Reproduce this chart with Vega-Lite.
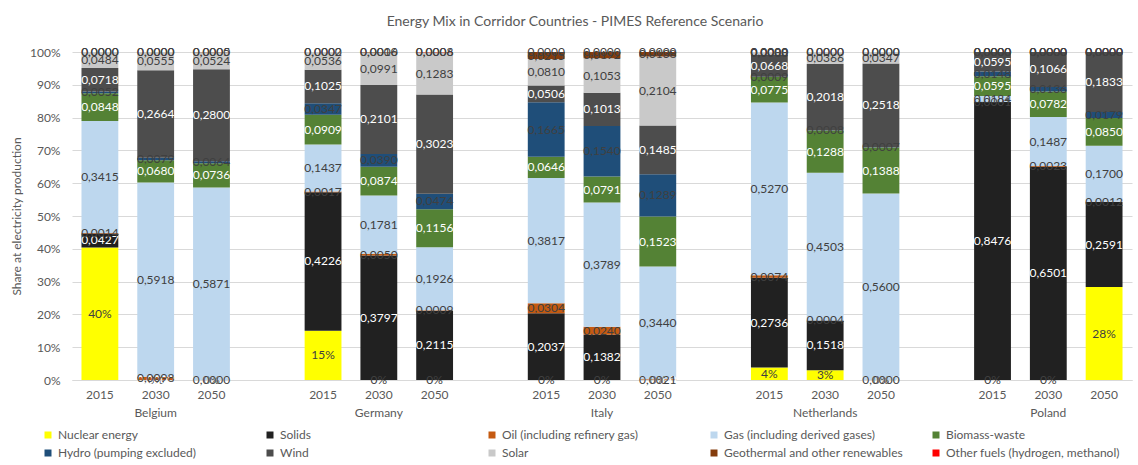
{
  "$schema": "https://vega.github.io/schema/vega-lite/v6.json",
  "width": 1060,
  "height": 328,
  "autosize": {"type": "none"},
  "padding": {"left": 72, "top": 52, "right": 6, "bottom": 85},
  "background": "white",
  "title": {"text": "Energy Mix in Corridor Countries - PIMES Reference Scenario", "font": "Lato", "fontSize": 14, "fontWeight": "normal", "color": "#595959", "anchor": "middle", "dx": -27, "offset": 17},
  "data": {"values": [
    {"bar":"Belgium|2015","source":"Nuclear energy","share":0.4042},
    {"bar":"Belgium|2015","source":"Solids","share":0.0427},
    {"bar":"Belgium|2015","source":"Oil (including refinery gas)","share":0.0014},
    {"bar":"Belgium|2015","source":"Gas (including derived gases)","share":0.3415},
    {"bar":"Belgium|2015","source":"Biomass-waste","share":0.0848},
    {"bar":"Belgium|2015","source":"Hydro (pumping excluded)","share":0.0052},
    {"bar":"Belgium|2015","source":"Wind","share":0.0718},
    {"bar":"Belgium|2015","source":"Solar","share":0.0484},
    {"bar":"Belgium|2015","source":"Geothermal and other renewables","share":0},
    {"bar":"Belgium|2015","source":"Other fuels (hydrogen, methanol)","share":0},
    {"bar":"Belgium|2030","source":"Nuclear energy","share":0},
    {"bar":"Belgium|2030","source":"Solids","share":0},
    {"bar":"Belgium|2030","source":"Oil (including refinery gas)","share":0.0098},
    {"bar":"Belgium|2030","source":"Gas (including derived gases)","share":0.5918},
    {"bar":"Belgium|2030","source":"Biomass-waste","share":0.0680},
    {"bar":"Belgium|2030","source":"Hydro (pumping excluded)","share":0.0079},
    {"bar":"Belgium|2030","source":"Wind","share":0.2664},
    {"bar":"Belgium|2030","source":"Solar","share":0.0555},
    {"bar":"Belgium|2030","source":"Geothermal and other renewables","share":0},
    {"bar":"Belgium|2030","source":"Other fuels (hydrogen, methanol)","share":0},
    {"bar":"Belgium|2050","source":"Nuclear energy","share":0},
    {"bar":"Belgium|2050","source":"Solids","share":0},
    {"bar":"Belgium|2050","source":"Oil (including refinery gas)","share":0},
    {"bar":"Belgium|2050","source":"Gas (including derived gases)","share":0.5871},
    {"bar":"Belgium|2050","source":"Biomass-waste","share":0.0736},
    {"bar":"Belgium|2050","source":"Hydro (pumping excluded)","share":0.0064},
    {"bar":"Belgium|2050","source":"Wind","share":0.2800},
    {"bar":"Belgium|2050","source":"Solar","share":0.0524},
    {"bar":"Belgium|2050","source":"Geothermal and other renewables","share":0.0005},
    {"bar":"Belgium|2050","source":"Other fuels (hydrogen, methanol)","share":0},
    {"bar":"Germany|2015","source":"Nuclear energy","share":0.1501},
    {"bar":"Germany|2015","source":"Solids","share":0.4226},
    {"bar":"Germany|2015","source":"Oil (including refinery gas)","share":0.0017},
    {"bar":"Germany|2015","source":"Gas (including derived gases)","share":0.1437},
    {"bar":"Germany|2015","source":"Biomass-waste","share":0.0909},
    {"bar":"Germany|2015","source":"Hydro (pumping excluded)","share":0.0347},
    {"bar":"Germany|2015","source":"Wind","share":0.1025},
    {"bar":"Germany|2015","source":"Solar","share":0.0536},
    {"bar":"Germany|2015","source":"Geothermal and other renewables","share":0.0002},
    {"bar":"Germany|2015","source":"Other fuels (hydrogen, methanol)","share":0},
    {"bar":"Germany|2030","source":"Nuclear energy","share":0},
    {"bar":"Germany|2030","source":"Solids","share":0.3797},
    {"bar":"Germany|2030","source":"Oil (including refinery gas)","share":0.0050},
    {"bar":"Germany|2030","source":"Gas (including derived gases)","share":0.1781},
    {"bar":"Germany|2030","source":"Biomass-waste","share":0.0874},
    {"bar":"Germany|2030","source":"Hydro (pumping excluded)","share":0.0390},
    {"bar":"Germany|2030","source":"Wind","share":0.2101},
    {"bar":"Germany|2030","source":"Solar","share":0.0991},
    {"bar":"Germany|2030","source":"Geothermal and other renewables","share":0.0016},
    {"bar":"Germany|2030","source":"Other fuels (hydrogen, methanol)","share":0},
    {"bar":"Germany|2050","source":"Nuclear energy","share":0},
    {"bar":"Germany|2050","source":"Solids","share":0.2115},
    {"bar":"Germany|2050","source":"Oil (including refinery gas)","share":0.0009},
    {"bar":"Germany|2050","source":"Gas (including derived gases)","share":0.1926},
    {"bar":"Germany|2050","source":"Biomass-waste","share":0.1156},
    {"bar":"Germany|2050","source":"Hydro (pumping excluded)","share":0.0474},
    {"bar":"Germany|2050","source":"Wind","share":0.3023},
    {"bar":"Germany|2050","source":"Solar","share":0.1283},
    {"bar":"Germany|2050","source":"Geothermal and other renewables","share":0.0008},
    {"bar":"Germany|2050","source":"Other fuels (hydrogen, methanol)","share":0.0006},
    {"bar":"Italy|2015","source":"Nuclear energy","share":0},
    {"bar":"Italy|2015","source":"Solids","share":0.2037},
    {"bar":"Italy|2015","source":"Oil (including refinery gas)","share":0.0304},
    {"bar":"Italy|2015","source":"Gas (including derived gases)","share":0.3817},
    {"bar":"Italy|2015","source":"Biomass-waste","share":0.0646},
    {"bar":"Italy|2015","source":"Hydro (pumping excluded)","share":0.1665},
    {"bar":"Italy|2015","source":"Wind","share":0.0506},
    {"bar":"Italy|2015","source":"Solar","share":0.0810},
    {"bar":"Italy|2015","source":"Geothermal and other renewables","share":0.0215},
    {"bar":"Italy|2015","source":"Other fuels (hydrogen, methanol)","share":0},
    {"bar":"Italy|2030","source":"Nuclear energy","share":0},
    {"bar":"Italy|2030","source":"Solids","share":0.1382},
    {"bar":"Italy|2030","source":"Oil (including refinery gas)","share":0.0240},
    {"bar":"Italy|2030","source":"Gas (including derived gases)","share":0.3789},
    {"bar":"Italy|2030","source":"Biomass-waste","share":0.0791},
    {"bar":"Italy|2030","source":"Hydro (pumping excluded)","share":0.1540},
    {"bar":"Italy|2030","source":"Wind","share":0.1013},
    {"bar":"Italy|2030","source":"Solar","share":0.1053},
    {"bar":"Italy|2030","source":"Geothermal and other renewables","share":0.0192},
    {"bar":"Italy|2030","source":"Other fuels (hydrogen, methanol)","share":0},
    {"bar":"Italy|2050","source":"Nuclear energy","share":0},
    {"bar":"Italy|2050","source":"Solids","share":0},
    {"bar":"Italy|2050","source":"Oil (including refinery gas)","share":0.0021},
    {"bar":"Italy|2050","source":"Gas (including derived gases)","share":0.3440},
    {"bar":"Italy|2050","source":"Biomass-waste","share":0.1523},
    {"bar":"Italy|2050","source":"Hydro (pumping excluded)","share":0.1289},
    {"bar":"Italy|2050","source":"Wind","share":0.1485},
    {"bar":"Italy|2050","source":"Solar","share":0.2104},
    {"bar":"Italy|2050","source":"Geothermal and other renewables","share":0.0138},
    {"bar":"Italy|2050","source":"Other fuels (hydrogen, methanol)","share":0},
    {"bar":"Netherlands|2015","source":"Nuclear energy","share":0.0380},
    {"bar":"Netherlands|2015","source":"Solids","share":0.2736},
    {"bar":"Netherlands|2015","source":"Oil (including refinery gas)","share":0.0074},
    {"bar":"Netherlands|2015","source":"Gas (including derived gases)","share":0.5270},
    {"bar":"Netherlands|2015","source":"Biomass-waste","share":0.0775},
    {"bar":"Netherlands|2015","source":"Hydro (pumping excluded)","share":0.0009},
    {"bar":"Netherlands|2015","source":"Wind","share":0.0668},
    {"bar":"Netherlands|2015","source":"Solar","share":0.0088},
    {"bar":"Netherlands|2015","source":"Geothermal and other renewables","share":0},
    {"bar":"Netherlands|2015","source":"Other fuels (hydrogen, methanol)","share":0},
    {"bar":"Netherlands|2030","source":"Nuclear energy","share":0.0295},
    {"bar":"Netherlands|2030","source":"Solids","share":0.1518},
    {"bar":"Netherlands|2030","source":"Oil (including refinery gas)","share":0.0004},
    {"bar":"Netherlands|2030","source":"Gas (including derived gases)","share":0.4503},
    {"bar":"Netherlands|2030","source":"Biomass-waste","share":0.1288},
    {"bar":"Netherlands|2030","source":"Hydro (pumping excluded)","share":0.0008},
    {"bar":"Netherlands|2030","source":"Wind","share":0.2018},
    {"bar":"Netherlands|2030","source":"Solar","share":0.0366},
    {"bar":"Netherlands|2030","source":"Geothermal and other renewables","share":0},
    {"bar":"Netherlands|2030","source":"Other fuels (hydrogen, methanol)","share":0},
    {"bar":"Netherlands|2050","source":"Nuclear energy","share":0},
    {"bar":"Netherlands|2050","source":"Solids","share":0.0007},
    {"bar":"Netherlands|2050","source":"Oil (including refinery gas)","share":0},
    {"bar":"Netherlands|2050","source":"Gas (including derived gases)","share":0.5600},
    {"bar":"Netherlands|2050","source":"Biomass-waste","share":0.1388},
    {"bar":"Netherlands|2050","source":"Hydro (pumping excluded)","share":0.0007},
    {"bar":"Netherlands|2050","source":"Wind","share":0.2518},
    {"bar":"Netherlands|2050","source":"Solar","share":0.0347},
    {"bar":"Netherlands|2050","source":"Geothermal and other renewables","share":0},
    {"bar":"Netherlands|2050","source":"Other fuels (hydrogen, methanol)","share":0},
    {"bar":"Poland|2015","source":"Nuclear energy","share":0},
    {"bar":"Poland|2015","source":"Solids","share":0.8476},
    {"bar":"Poland|2015","source":"Oil (including refinery gas)","share":0.0001},
    {"bar":"Poland|2015","source":"Gas (including derived gases)","share":0.0184},
    {"bar":"Poland|2015","source":"Biomass-waste","share":0.0595},
    {"bar":"Poland|2015","source":"Hydro (pumping excluded)","share":0.0148},
    {"bar":"Poland|2015","source":"Wind","share":0.0595},
    {"bar":"Poland|2015","source":"Solar","share":0},
    {"bar":"Poland|2015","source":"Geothermal and other renewables","share":0},
    {"bar":"Poland|2015","source":"Other fuels (hydrogen, methanol)","share":0},
    {"bar":"Poland|2030","source":"Nuclear energy","share":0},
    {"bar":"Poland|2030","source":"Solids","share":0.6501},
    {"bar":"Poland|2030","source":"Oil (including refinery gas)","share":0.0023},
    {"bar":"Poland|2030","source":"Gas (including derived gases)","share":0.1487},
    {"bar":"Poland|2030","source":"Biomass-waste","share":0.0782},
    {"bar":"Poland|2030","source":"Hydro (pumping excluded)","share":0.0136},
    {"bar":"Poland|2030","source":"Wind","share":0.1066},
    {"bar":"Poland|2030","source":"Solar","share":0},
    {"bar":"Poland|2030","source":"Geothermal and other renewables","share":0},
    {"bar":"Poland|2030","source":"Other fuels (hydrogen, methanol)","share":0},
    {"bar":"Poland|2050","source":"Nuclear energy","share":0.2835},
    {"bar":"Poland|2050","source":"Solids","share":0.2591},
    {"bar":"Poland|2050","source":"Oil (including refinery gas)","share":0.0012},
    {"bar":"Poland|2050","source":"Gas (including derived gases)","share":0.1700},
    {"bar":"Poland|2050","source":"Biomass-waste","share":0.0850},
    {"bar":"Poland|2050","source":"Hydro (pumping excluded)","share":0.0179},
    {"bar":"Poland|2050","source":"Wind","share":0.1833},
    {"bar":"Poland|2050","source":"Solar","share":0},
    {"bar":"Poland|2050","source":"Geothermal and other renewables","share":0},
    {"bar":"Poland|2050","source":"Other fuels (hydrogen, methanol)","share":0}
  ]},
  "transform": [
    {"stack": "share", "groupby": ["bar"], "offset": "normalize", "as": ["y0", "y1"]}
  ],
  "encoding": {
    "x": {
      "field": "bar", "type": "nominal", "title": null,
      "scale": {"domain": ["Belgium|2015","Belgium|2030","Belgium|2050","gap1","Germany|2015","Germany|2030","Germany|2050","gap2","Italy|2015","Italy|2030","Italy|2050","gap3","Netherlands|2015","Netherlands|2030","Netherlands|2050","gap4","Poland|2015","Poland|2030","Poland|2050"], "paddingInner": 0.34, "paddingOuter": 0.17},
      "axis": {
        "labelExpr": "length(split(datum.value,'|')) < 2 ? '' : (split(datum.value,'|')[1] == '2030' ? [split(datum.value,'|')[1], split(datum.value,'|')[0]] : split(datum.value,'|')[1])",
        "labelAngle": 0, "labelOverlap": false, "ticks": false, "domain": true, "domainColor": "#D9D9D9",
        "labelPadding": 9, "labelFont": "Lato", "labelFontSize": 12, "labelColor": "#595959", "labelLineHeight": 18, "grid": false
      }
    }
  },
  "layer": [
    {
      "mark": {"type": "bar"},
      "encoding": {
        "y": {"field": "y0", "type": "quantitative", "title": "Share at electricity production",
          "scale": {"domain": [0, 1], "nice": false},
          "axis": {"values": [0,0.1,0.2,0.3,0.4,0.5,0.6,0.7,0.8,0.9,1], "format": ".0%", "labelOverlap": false, "domain": false, "ticks": false, "grid": true, "gridColor": "#D9D9D9",
            "labelPadding": 12, "labelFont": "Lato", "labelFontSize": 12, "labelColor": "#595959",
            "titleFont": "Lato", "titleFontSize": 12, "titleFontWeight": "normal", "titleColor": "#595959", "titlePadding": 6}},
        "y2": {"field": "y1"},
        "color": {"field": "source", "type": "nominal",
          "scale": {"domain": ["Nuclear energy","Solids","Oil (including refinery gas)","Gas (including derived gases)","Biomass-waste","Hydro (pumping excluded)","Wind","Solar","Geothermal and other renewables","Other fuels (hydrogen, methanol)"],
            "range": ["#FFFF00","#212121","#C55A11","#BDD7EE","#548235","#1F4E79","#4D4D4D","#C9C9C9","#843C0C","#FF0000"]},
          "legend": {"orient": "none", "legendX": -30, "legendY": 377, "direction": "horizontal", "columns": 5, "title": null,
            "symbolType": "square", "symbolSize": 49, "symbolStrokeWidth": 0, "labelFont": "Lato", "labelFontSize": 12, "labelColor": "#595959",
            "columnPadding": 27, "rowPadding": 6, "gridAlign": "all", "labelOffset": 4, "padding": 0, "labelLimit": 300}}
      }
    },
    {
      "transform": [
        {"filter": "datum.source == 'Nuclear energy'"},
        {"fold": ["y0", "y1"], "as": ["edge", "pos"]},
        {"aggregate": [{"op": "mean", "field": "pos", "as": "mid"}], "groupby": ["bar", "source", "share"]}
      ],
      "mark": {"type": "text", "font": "Lato", "fontSize": 12, "baseline": "middle", "align": "center"},
      "encoding": {
        "y": {"field": "mid", "type": "quantitative", "title": "Share at electricity production",
          "axis": {"values": [0,0.1,0.2,0.3,0.4,0.5,0.6,0.7,0.8,0.9,1], "format": ".0%", "labelOverlap": false, "domain": false, "ticks": false, "grid": true, "gridColor": "#D9D9D9",
            "labelPadding": 12, "labelFont": "Lato", "labelFontSize": 12, "labelColor": "#595959",
            "titleFont": "Lato", "titleFontSize": 12, "titleFontWeight": "normal", "titleColor": "#595959", "titlePadding": 6}},
        "text": {"field": "share", "type": "quantitative", "format": ".0%"},
        "fill": {"value": "#404040"}
      }
    },
    {
      "transform": [
        {"filter": "datum.source != 'Nuclear energy'"},
        {"fold": ["y0", "y1"], "as": ["edge", "pos"]},
        {"aggregate": [{"op": "mean", "field": "pos", "as": "mid"}], "groupby": ["bar", "source", "share"]}
      ],
      "mark": {"type": "text", "font": "Lato", "fontSize": 12, "baseline": "middle", "align": "center"},
      "encoding": {
        "y": {"field": "mid", "type": "quantitative", "title": "Share at electricity production",
          "axis": {"values": [0,0.1,0.2,0.3,0.4,0.5,0.6,0.7,0.8,0.9,1], "format": ".0%", "labelOverlap": false, "domain": false, "ticks": false, "grid": true, "gridColor": "#D9D9D9",
            "labelPadding": 12, "labelFont": "Lato", "labelFontSize": 12, "labelColor": "#595959",
            "titleFont": "Lato", "titleFontSize": 12, "titleFontWeight": "normal", "titleColor": "#595959", "titlePadding": 6}},
        "text": {"field": "share", "type": "quantitative", "format": ".4f"},
        "fill": {"condition": {"test": "datum.source == 'Solids' || datum.source == 'Biomass-waste' || datum.source == 'Wind'", "value": "#FFFFFF"}, "value": "#404040"}
      }
    }
  ],
  "config": {
    "view": {"stroke": null},
    "locale": {"number": {"decimal": ",", "thousands": ".", "grouping": [3], "currency": ["", " €"]}}
  }
}
